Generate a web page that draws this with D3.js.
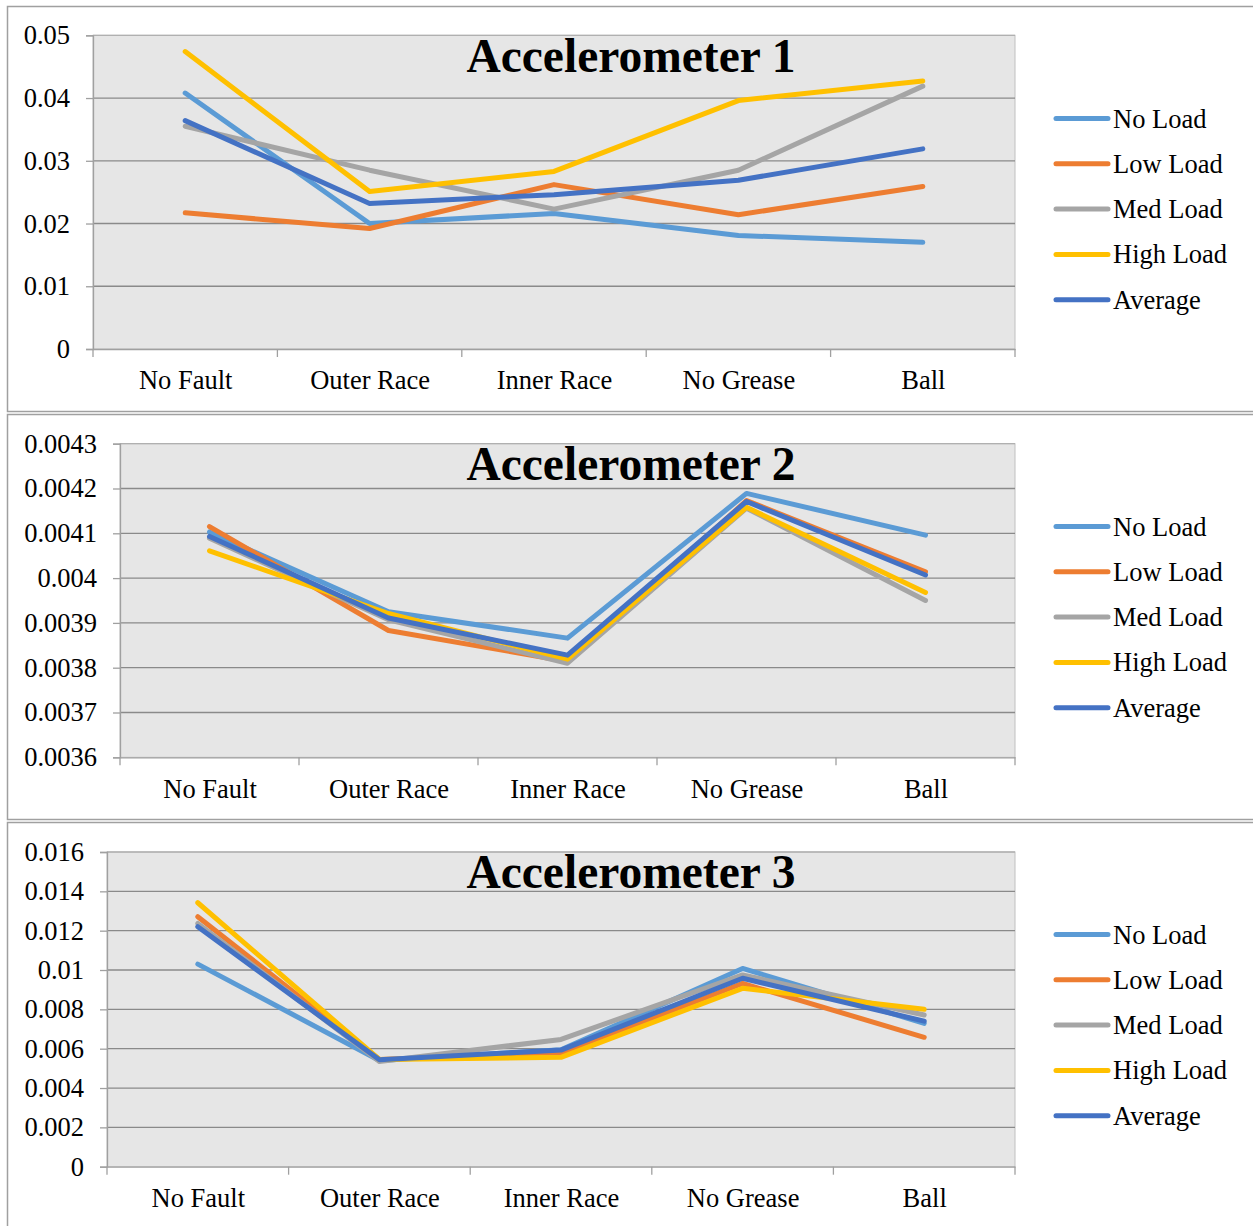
<!DOCTYPE html>
<html>
<head>
<meta charset="utf-8">
<script src="https://cdn.jsdelivr.net/npm/d3@7"></script>
<style>
  html, body { margin: 0; padding: 0; background: #ffffff; }
  svg { display: block; }
  text { font-family: "Liberation Serif", "Times New Roman", serif; fill: #000; }
</style>
</head>
<body>
<svg id="chart" width="1253" height="1226"></svg>
<script>
// Fault categories and load series
const categories = ["No Fault", "Outer Race", "Inner Race", "No Grease", "Ball"];
const seriesNames = ["No Load", "Low Load", "Med Load", "High Load", "Average"];

// Accelerometer 1
const acc1NoLoad   = [0.0408, 0.0200, 0.0216, 0.0181, 0.0170];
const acc1LowLoad  = [0.0217, 0.0192, 0.0262, 0.0214, 0.0259];
const acc1MedLoad  = [0.0355, 0.0285, 0.0223, 0.0285, 0.0419];
const acc1HighLoad = [0.0474, 0.0251, 0.0283, 0.0396, 0.0427];
const acc1Average  = [0.0364, 0.0232, 0.0246, 0.0269, 0.0319];
const acc1Ticks = [0, 0.01, 0.02, 0.03, 0.04, 0.05];
const acc1TickLabels = ["0", "0.01", "0.02", "0.03", "0.04", "0.05"];

// Accelerometer 2
const acc2NoLoad   = [0.004103, 0.003925, 0.003866, 0.004189, 0.004096];
const acc2LowLoad  = [0.004115, 0.003883, 0.003814, 0.004173, 0.004014];
const acc2MedLoad  = [0.004089, 0.003907, 0.003810, 0.004156, 0.003950];
const acc2HighLoad = [0.004061, 0.003921, 0.003819, 0.004158, 0.003968];
const acc2Average  = [0.004093, 0.003911, 0.003828, 0.004171, 0.004007];
const acc2Ticks = [0.0036, 0.0037, 0.0038, 0.0039, 0.004, 0.0041, 0.0042, 0.0043];
const acc2TickLabels = ["0.0036", "0.0037", "0.0038", "0.0039", "0.004", "0.0041", "0.0042", "0.0043"];

// Accelerometer 3
const acc3NoLoad   = [0.01030, 0.00540, 0.00594, 0.01008, 0.00729];
const acc3LowLoad  = [0.01271, 0.00545, 0.00576, 0.00932, 0.00658];
const acc3MedLoad  = [0.01237, 0.00535, 0.00647, 0.00975, 0.00771];
const acc3HighLoad = [0.01342, 0.00545, 0.00556, 0.00907, 0.00800];
const acc3Average  = [0.01220, 0.00544, 0.00593, 0.00958, 0.00740];
const acc3Ticks = [0, 0.002, 0.004, 0.006, 0.008, 0.01, 0.012, 0.014, 0.016];
const acc3TickLabels = ["0", "0.002", "0.004", "0.006", "0.008", "0.01", "0.012", "0.014", "0.016"];

const seriesColors = ["#5B9BD5", "#ED7D31", "#A5A5A5", "#FFC000", "#4472C4"];

const panels = [
  { title: "Accelerometer 1", series: [acc1NoLoad, acc1LowLoad, acc1MedLoad, acc1HighLoad, acc1Average],
    ticks: acc1Ticks, labels: acc1TickLabels,
    frameTop: 6, frameBottom: 411, left: 93, top: 35.3, bottom: 349 },
  { title: "Accelerometer 2", series: [acc2NoLoad, acc2LowLoad, acc2MedLoad, acc2HighLoad, acc2Average],
    ticks: acc2Ticks, labels: acc2TickLabels,
    frameTop: 414, frameBottom: 819, left: 120, top: 443.7, bottom: 757.3 },
  { title: "Accelerometer 3", series: [acc3NoLoad, acc3LowLoad, acc3MedLoad, acc3HighLoad, acc3Average],
    ticks: acc3Ticks, labels: acc3TickLabels,
    frameTop: 822, frameBottom: 1230, left: 107, top: 852, bottom: 1166.7 }
];

const plotRight = 1015;
const svg = d3.select("#chart");

panels.forEach(p => {
  const g = svg.append("g");

  // chart frame
  g.append("rect")
    .attr("x", 7.5).attr("y", p.frameTop + 0.5)
    .attr("width", 1300).attr("height", p.frameBottom - p.frameTop)
    .attr("fill", "#fff").attr("stroke", "#a0a0a0").attr("stroke-width", 1.5);

  const x = d3.scalePoint().domain(categories).range([p.left, plotRight]).padding(0.5);
  const band = d3.scaleBand().domain(categories).range([p.left, plotRight]);
  const y = d3.scaleLinear().domain([p.ticks[0], p.ticks[p.ticks.length - 1]]).range([p.bottom, p.top]);

  // plot area
  g.append("rect")
    .attr("x", p.left).attr("y", p.top)
    .attr("width", plotRight - p.left).attr("height", p.bottom - p.top)
    .attr("fill", "#e6e6e6").attr("stroke", "#c0c0c0").attr("stroke-width", 1);

  // horizontal gridlines
  g.append("g").selectAll("line")
    .data(p.ticks.slice(1))
    .join("line")
    .attr("x1", p.left).attr("x2", plotRight)
    .attr("y1", d => y(d)).attr("y2", d => y(d))
    .attr("stroke", d => d === p.ticks[p.ticks.length - 1] ? "#b0b0b0" : "#8a8a8a")
    .attr("stroke-width", 1.3);

  // y axis
  const yAxis = g.append("g")
    .attr("transform", `translate(${p.left},0)`)
    .call(d3.axisLeft(y).tickValues(p.ticks)
      .tickFormat((d, i) => p.labels[i]).tickSize(7).tickPadding(16));
  yAxis.select(".domain").attr("stroke", "#a0a0a0").attr("stroke-width", 1.3);
  yAxis.selectAll(".tick line").attr("stroke", "#a0a0a0").attr("stroke-width", 1.3);
  yAxis.selectAll("text")
    .attr("font-size", 26.5).attr("font-family", "Liberation Serif, Times New Roman, serif")
    .attr("fill", "#000");

  // x axis: labels centred on categories, ticks on category boundaries
  const xAxis = g.append("g")
    .attr("transform", `translate(0,${p.bottom})`)
    .call(d3.axisBottom(x).tickSize(0).tickPadding(21.5));
  xAxis.select(".domain").attr("stroke", "#a0a0a0").attr("stroke-width", 1.3);
  xAxis.selectAll("text")
    .attr("font-size", 26.5).attr("font-family", "Liberation Serif, Times New Roman, serif")
    .attr("fill", "#000");
  const bounds = categories.map(c => band(c)).concat([band(categories[categories.length - 1]) + band.step()]);
  g.append("g").selectAll("line")
    .data(bounds)
    .join("line")
    .attr("x1", d => d).attr("x2", d => d)
    .attr("y1", p.bottom).attr("y2", p.bottom + 8)
    .attr("stroke", "#a0a0a0").attr("stroke-width", 1.3);

  // title
  g.append("text")
    .attr("x", 631).attr("y", p.frameTop + 66)
    .attr("text-anchor", "middle")
    .attr("font-size", 47.5).attr("font-weight", "bold")
    .text(p.title);

  // series lines
  const line = d3.line().x((d, i) => x(categories[i])).y(d => y(d));
  g.append("g").selectAll("path")
    .data(p.series)
    .join("path")
    .attr("d", d => line(d))
    .attr("fill", "none")
    .attr("stroke", (d, i) => seriesColors[i])
    .attr("stroke-width", 5)
    .attr("stroke-linecap", "round")
    .attr("stroke-linejoin", "round");

  // legend
  const leg = g.append("g").selectAll("g")
    .data(seriesNames)
    .join("g")
    .attr("transform", (d, i) => `translate(0,${p.frameTop + 112.5 + i * 45.3})`);
  leg.append("line")
    .attr("x1", 1056).attr("x2", 1108)
    .attr("stroke", (d, i) => seriesColors[i])
    .attr("stroke-width", 5).attr("stroke-linecap", "round");
  leg.append("text")
    .attr("x", 1113).attr("y", 9)
    .attr("font-size", 26.5)
    .text(d => d);
});
</script>
</body>
</html>
